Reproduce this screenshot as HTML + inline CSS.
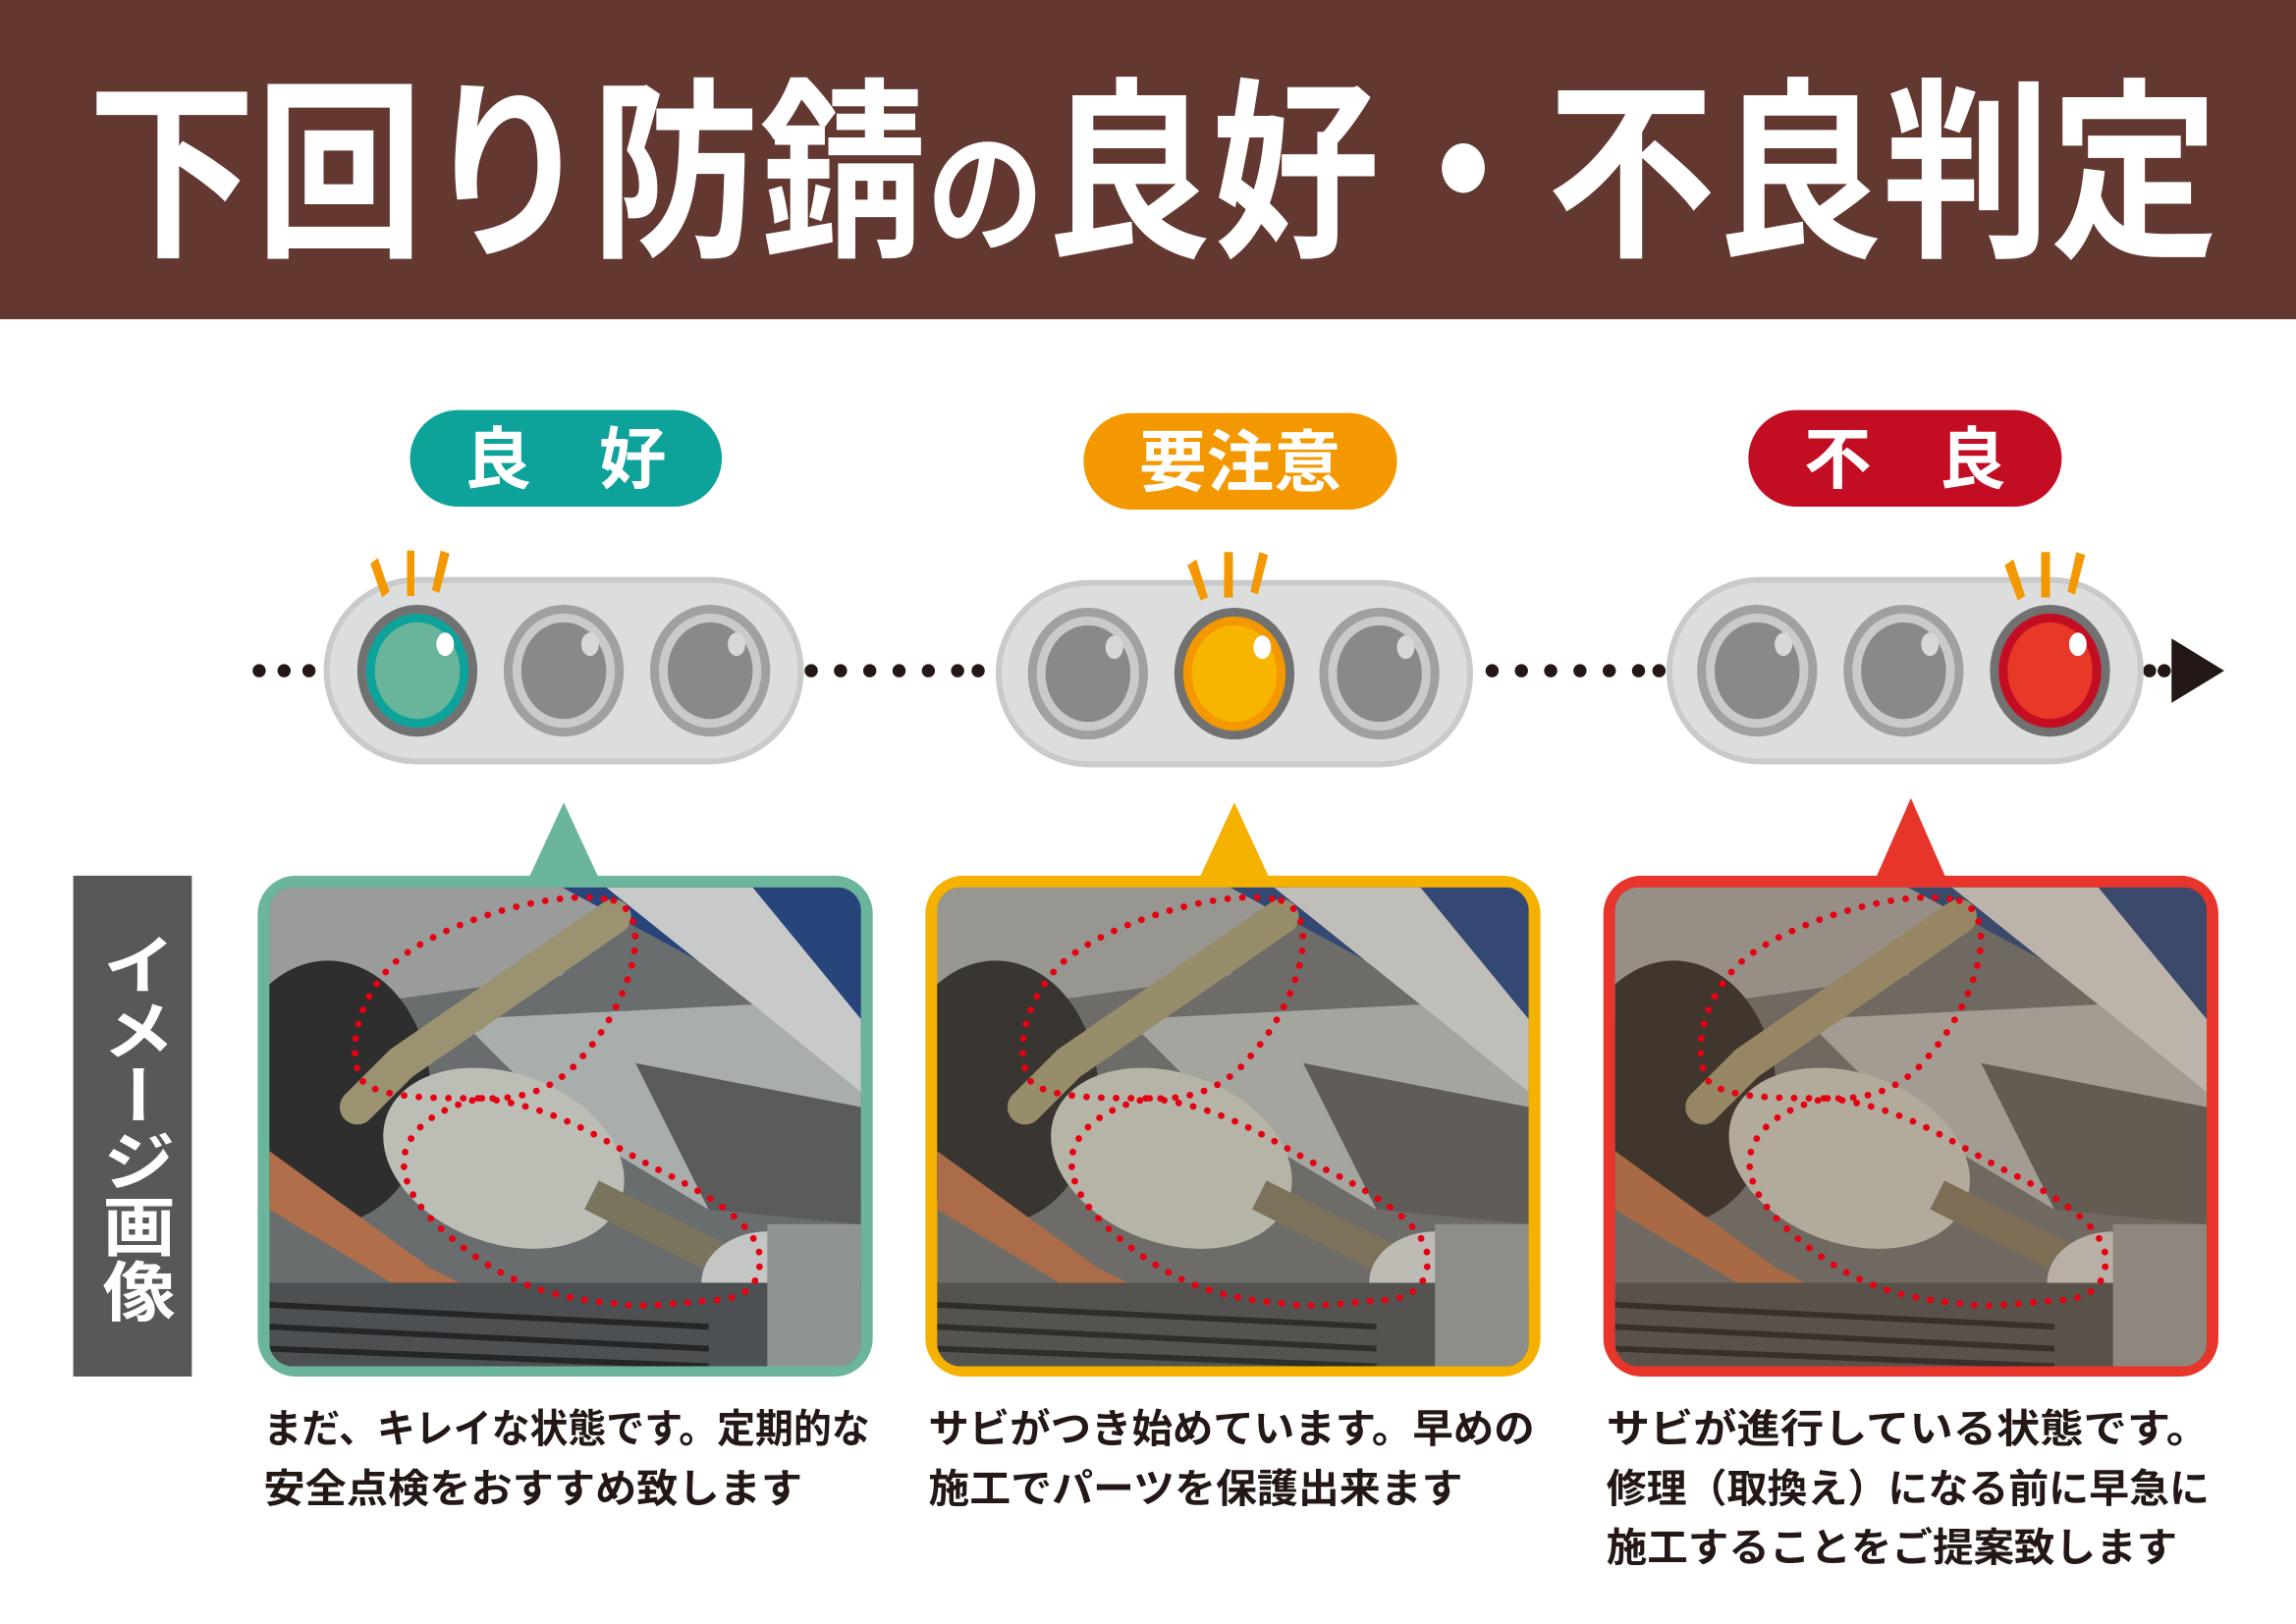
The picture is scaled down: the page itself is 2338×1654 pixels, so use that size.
<!DOCTYPE html>
<html><head><meta charset="utf-8"><style>
html,body{margin:0;padding:0;background:#fff;}
svg{display:block;}
text{font-family:"Liberation Sans","Noto Sans CJK JP",sans-serif;}
</style></head><body>
<svg width="2338" height="1654" viewBox="0 0 1568 1109" preserveAspectRatio="none" xmlns="http://www.w3.org/2000/svg">
<defs>
<clipPath id="ph"><rect x="0" y="0" width="404" height="327" rx="16"/></clipPath>
<g id="scene">
  <rect x="0" y="0" width="404" height="327" fill="#6a6d6e"/>
  <polygon points="0,0 240,0 200,60 60,80 0,90" fill="#9a9c9c"/>
  <polygon points="200,0 404,0 404,110" fill="#27457a"/>
  <polygon points="230,0 330,0 404,90 404,140 330,80" fill="#c8caca"/>
  <polygon points="130,90 330,80 404,140 404,210 300,220 200,160" fill="#a9adac"/>
  <polygon points="250,120 404,150 404,230 300,220" fill="#5a5c5c"/>
  <ellipse cx="40" cy="140" rx="70" ry="90" fill="#2e2e2e"/>
  <polygon points="0,180 110,260 170,290 160,300 100,280 0,220" fill="#b06e4a"/>
  <path d="M235,20 L90,120 L60,150" stroke="#9a9270" stroke-width="24" fill="none" stroke-linecap="round"/>
  <ellipse cx="160" cy="185" rx="85" ry="58" fill="#bcbeb6" transform="rotate(20 160 185)"/>
  <path d="M220,210 L320,260" stroke="#7a735e" stroke-width="22" fill="none"/>
  <ellipse cx="340" cy="270" rx="45" ry="35" fill="#c4c6c4"/>
  <rect x="0" y="270" width="404" height="57" fill="#4d5052"/>
  <path d="M0,285 L300,300 M0,300 L300,315 M0,315 L300,327" stroke="#242628" stroke-width="4"/>
  <rect x="340" y="230" width="64" height="97" fill="#8f9393"/>
</g>
<g id="loops" fill="none" stroke="#e60012" stroke-width="4.5" stroke-dasharray="0.1 10" stroke-linecap="round">
  <path d="M235,9 C265,20 245,80 215,114 C195,140 170,145 145,144 C110,144 70,144 62,130 C50,100 70,60 95,44 C130,20 200,0 235,9 Z"/>
  <path d="M145,144 C200,150 230,175 270,195 C310,215 335,235 335,254 C335,275 320,282 300,282 C270,285 250,287 235,284 C190,280 165,270 135,248 C105,225 90,205 92,184 C95,165 115,150 145,144 Z"/>
</g>
</defs>

<rect x="0" y="0" width="1568" height="218" fill="#633831"/>
<text x="60" y="165" font-size="132" font-weight="bold" fill="#fff" textLength="1455" lengthAdjust="spacingAndGlyphs">下回り防錆<tspan font-size="92">の</tspan>良好・不良判定</text>

<rect x="280" y="280" width="213" height="66" rx="33" fill="#0ea39a"/>
<text x="386" y="330" font-size="46" font-weight="bold" fill="#fff" text-anchor="middle">良　好</text>
<rect x="740" y="282" width="214" height="66" rx="33" fill="#f39800"/>
<text x="847" y="332" font-size="46" font-weight="bold" fill="#fff" text-anchor="middle">要注意</text>
<rect x="1194" y="280" width="214" height="66" rx="33" fill="#c30d23"/>
<text x="1301" y="330" font-size="46" font-weight="bold" fill="#fff" text-anchor="middle">不　良</text>

<g fill="#231815">
  <circle cx="177" cy="458" r="4.5"/><circle cx="194" cy="458" r="4.5"/><circle cx="211" cy="458" r="4.5"/>
  <circle cx="554" cy="458" r="4.5"/><circle cx="574" cy="458" r="4.5"/><circle cx="594" cy="458" r="4.5"/><circle cx="614" cy="458" r="4.5"/><circle cx="634" cy="458" r="4.5"/><circle cx="654" cy="458" r="4.5"/><circle cx="668" cy="458" r="4.5"/>
  <circle cx="1019" cy="458" r="4.5"/><circle cx="1039" cy="458" r="4.5"/><circle cx="1059" cy="458" r="4.5"/><circle cx="1079" cy="458" r="4.5"/><circle cx="1099" cy="458" r="4.5"/><circle cx="1119" cy="458" r="4.5"/><circle cx="1133" cy="458" r="4.5"/>
  <circle cx="1468" cy="458" r="4.5"/><circle cx="1478" cy="458" r="4.5"/>
  <polygon points="1483,436 1519,458 1483,480"/>
</g>

<rect x="223" y="396" width="324" height="124" rx="62" fill="#dcdddd" stroke="#c9caca" stroke-width="4"/>
<rect x="682" y="398" width="322" height="124" rx="62" fill="#dcdddd" stroke="#c9caca" stroke-width="4"/>
<rect x="1140" y="396" width="322" height="124" rx="62" fill="#dcdddd" stroke="#c9caca" stroke-width="4"/>

<g>
  <ellipse cx="285" cy="458" rx="41" ry="45" fill="#727171"/><ellipse cx="285" cy="458" rx="35" ry="39" fill="#0ea39a"/><ellipse cx="285" cy="458" rx="29" ry="33" fill="#69b59b"/><ellipse cx="304" cy="440" rx="6" ry="8" fill="#fff"/>
  <ellipse cx="385" cy="458" rx="41" ry="45" fill="#9fa0a0"/><ellipse cx="385" cy="458" rx="35" ry="39" fill="#c9caca"/><ellipse cx="385" cy="458" rx="29" ry="33" fill="#898989"/><ellipse cx="403" cy="440" rx="6" ry="8" fill="#d8d8d8"/>
  <ellipse cx="485" cy="458" rx="41" ry="45" fill="#9fa0a0"/><ellipse cx="485" cy="458" rx="35" ry="39" fill="#c9caca"/><ellipse cx="485" cy="458" rx="29" ry="33" fill="#898989"/><ellipse cx="503" cy="440" rx="6" ry="8" fill="#d8d8d8"/>
  <ellipse cx="743" cy="460" rx="41" ry="45" fill="#9fa0a0"/><ellipse cx="743" cy="460" rx="35" ry="39" fill="#c9caca"/><ellipse cx="743" cy="460" rx="29" ry="33" fill="#898989"/><ellipse cx="761" cy="442" rx="6" ry="8" fill="#d8d8d8"/>
  <ellipse cx="843" cy="460" rx="41" ry="45" fill="#727171"/><ellipse cx="843" cy="460" rx="35" ry="39" fill="#f39800"/><ellipse cx="843" cy="460" rx="29" ry="33" fill="#f8b500"/><ellipse cx="862" cy="442" rx="6" ry="8" fill="#fff"/>
  <ellipse cx="942" cy="460" rx="41" ry="45" fill="#9fa0a0"/><ellipse cx="942" cy="460" rx="35" ry="39" fill="#c9caca"/><ellipse cx="942" cy="460" rx="29" ry="33" fill="#898989"/><ellipse cx="960" cy="442" rx="6" ry="8" fill="#d8d8d8"/>
  <ellipse cx="1200" cy="458" rx="41" ry="45" fill="#9fa0a0"/><ellipse cx="1200" cy="458" rx="35" ry="39" fill="#c9caca"/><ellipse cx="1200" cy="458" rx="29" ry="33" fill="#898989"/><ellipse cx="1218" cy="440" rx="6" ry="8" fill="#d8d8d8"/>
  <ellipse cx="1300" cy="458" rx="41" ry="45" fill="#9fa0a0"/><ellipse cx="1300" cy="458" rx="35" ry="39" fill="#c9caca"/><ellipse cx="1300" cy="458" rx="29" ry="33" fill="#898989"/><ellipse cx="1318" cy="440" rx="6" ry="8" fill="#d8d8d8"/>
  <ellipse cx="1400" cy="458" rx="41" ry="45" fill="#727171"/><ellipse cx="1400" cy="458" rx="35" ry="39" fill="#c30d23"/><ellipse cx="1400" cy="458" rx="29" ry="33" fill="#e83828"/><ellipse cx="1419" cy="440" rx="6" ry="8" fill="#fff"/>
</g>

<g fill="#f39800">
  <polygon points="253,385 258,381 266,404 261,408"/><polygon points="278,376 283,376 283,407 278,407"/><polygon points="301,376 307,378 300,405 295,403"/>
  <polygon points="811,386 817,382 825,408 820,410"/><polygon points="836,377 842,377 842,408 836,408"/><polygon points="860,377 866,379 859,406 854,404"/>
  <polygon points="1369,386 1375,382 1383,407 1378,410"/><polygon points="1394,377 1400,377 1400,408 1394,408"/><polygon points="1418,377 1424,379 1417,406 1412,404"/>
</g>

<polygon points="385,548 360,602 410,602" fill="#6ab59b"/>
<polygon points="843,548 818,602 868,602" fill="#f5b100"/>
<polygon points="1305,545 1280,602 1330,602" fill="#e8352b"/>

<rect x="50" y="598" width="81" height="342" fill="#595757"/>
<text x="91" y="636" font-size="50" font-weight="bold" fill="#fff" style="writing-mode:vertical-rl" textLength="268" lengthAdjust="spacingAndGlyphs">イメージ画像</text>

<rect x="176" y="598" width="420" height="342" rx="26" fill="#6ab59b"/>
<g transform="translate(184,606)"><g clip-path="url(#ph)"><use href="#scene"/></g><use href="#loops"/></g>

<rect x="632" y="598" width="420" height="342" rx="26" fill="#f5b100"/>
<g transform="translate(640,606)"><g clip-path="url(#ph)"><use href="#scene"/><rect width="404" height="327" fill="#8a6a40" opacity="0.12"/></g><use href="#loops"/></g>

<rect x="1095" y="598" width="420" height="342" rx="26" fill="#e8352b"/>
<g transform="translate(1103,606)"><g clip-path="url(#ph)"><use href="#scene"/><rect width="404" height="327" fill="#8a5a30" opacity="0.2"/></g><use href="#loops"/></g>

<g font-size="27" font-weight="bold" fill="#231815">
<text x="180" y="985" textLength="414" lengthAdjust="spacingAndGlyphs">まだ、キレイな状態です。定期的な</text>
<text x="180" y="1026" textLength="368" lengthAdjust="spacingAndGlyphs">安全点検をおすすめ致します</text>
<text x="634" y="985" textLength="414" lengthAdjust="spacingAndGlyphs">サビがつき始めています。早めの</text>
<text x="634" y="1026" textLength="365" lengthAdjust="spacingAndGlyphs">施工でパーツを保護出来ます</text>
<text x="1097" y="985" textLength="412" lengthAdjust="spacingAndGlyphs">サビが進行している状態です。</text>
<text x="1097" y="1026" textLength="412" lengthAdjust="spacingAndGlyphs">修理（取換え）になる前に早急に</text>
<text x="1097" y="1066" textLength="390" lengthAdjust="spacingAndGlyphs">施工することをご提案致します</text>
</g>
</svg>
</body></html>
